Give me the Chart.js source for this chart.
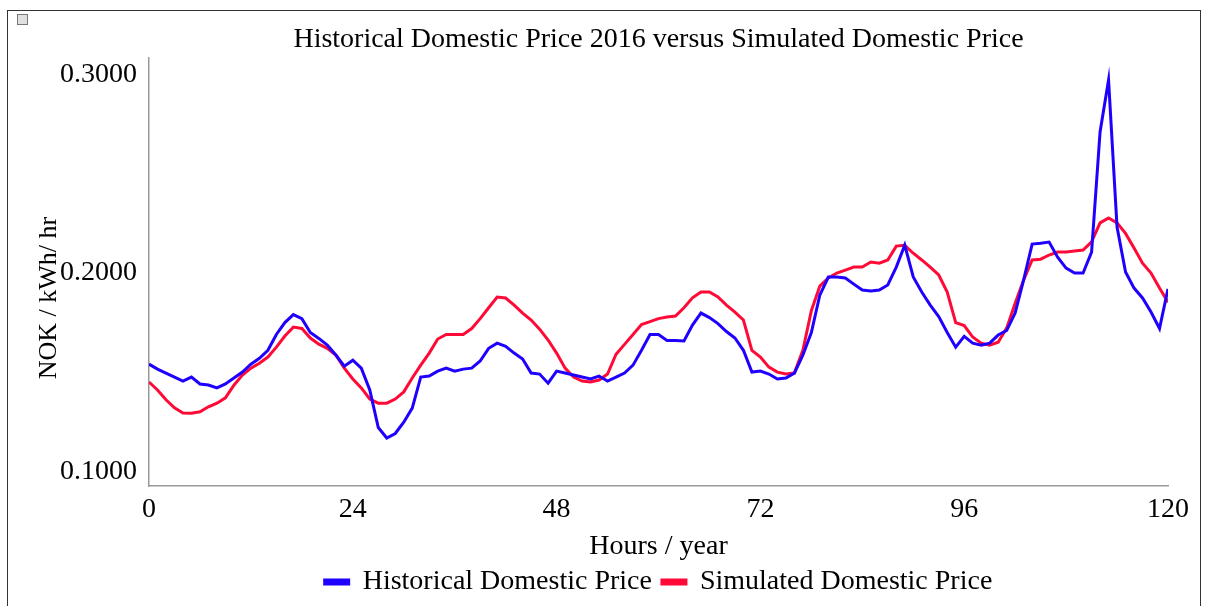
<!DOCTYPE html>
<html>
<head>
<meta charset="utf-8">
<title>Historical Domestic Price 2016 versus Simulated Domestic Price</title>
<script src="https://cdn.jsdelivr.net/npm/chart.js@4.4.1/dist/chart.umd.min.js"></script>
<style>
  html, body { margin: 0; padding: 0; background: #fff; }
  #wrap { position: relative; width: 1205px; height: 606px; overflow: hidden; }
  #priceChart { position: absolute; left: 0; top: 0; }
  .frame {
    position: absolute; left: 7px; top: 10px; width: 1192px; height: 600px;
    border: 1px solid #333; border-bottom: none; pointer-events: none;
  }
  .corner {
    position: absolute; left: 17px; top: 14px; width: 9px; height: 9px;
    border: 1px solid #777; background: #e0e0e0;
  }
</style>
</head>
<body>
<div id="wrap">
  <canvas id="priceChart" width="1205" height="606"></canvas>
  <div class="frame"></div>
  <div class="corner"></div>
</div>
<script>
// hourly values
const hours = Array.from({ length: 121 }, (_, i) => i);

const historicalPrice = [
  0.154, 0.1515, 0.1495, 0.1475, 0.1455, 0.1475, 0.144, 0.1435, 0.142, 0.144,
  0.147, 0.150, 0.154, 0.157, 0.161, 0.169, 0.175, 0.179, 0.177, 0.170,
  0.167, 0.1636, 0.1586, 0.153, 0.156, 0.152, 0.141, 0.122, 0.1167, 0.119,
  0.1247, 0.1318, 0.1475, 0.148, 0.1505, 0.152, 0.1505, 0.1515, 0.152, 0.1556,
  0.162, 0.1646, 0.163, 0.1596, 0.1566, 0.1495, 0.149, 0.1444, 0.1505, 0.1495,
  0.1485, 0.1475, 0.1465, 0.148, 0.1455, 0.1475, 0.1495, 0.1535, 0.161, 0.169,
  0.169, 0.166, 0.166, 0.1657, 0.1737, 0.1798, 0.1775, 0.1745, 0.1705, 0.1672,
  0.161, 0.150, 0.1505, 0.149, 0.1465, 0.147, 0.1495, 0.1586, 0.170, 0.1889,
  0.198, 0.198, 0.1975, 0.1944, 0.1914, 0.191, 0.1914, 0.194, 0.203, 0.2141,
  0.198, 0.1904, 0.1838, 0.178, 0.170, 0.1626, 0.168, 0.1646, 0.1636, 0.1646,
  0.1687, 0.171, 0.1798, 0.1965, 0.2146, 0.215, 0.2156, 0.208, 0.2025, 0.200,
  0.200, 0.2106, 0.2712, 0.2975, 0.2232, 0.2005, 0.1924, 0.1874, 0.1803, 0.172,
  0.192
];

const simulatedPrice = [
  0.145, 0.141, 0.136, 0.132, 0.1293, 0.1292, 0.130, 0.1325, 0.1343, 0.137,
  0.1434, 0.1485, 0.152, 0.1545, 0.1576, 0.1626, 0.1682, 0.1727, 0.172, 0.1672,
  0.1641, 0.162, 0.1586, 0.152, 0.1465, 0.142, 0.1364, 0.1343, 0.1343, 0.1364,
  0.140, 0.147, 0.1535, 0.1596, 0.1667, 0.169, 0.169, 0.169, 0.172, 0.177,
  0.1825, 0.1879, 0.1874, 0.1838, 0.1798, 0.1763, 0.1717, 0.1662, 0.1596, 0.152,
  0.1475, 0.1455, 0.145, 0.146, 0.149, 0.159, 0.164, 0.169, 0.174, 0.1755,
  0.177, 0.1778, 0.1783, 0.1825, 0.1875, 0.1904, 0.1904, 0.1879, 0.1838, 0.1803,
  0.1763, 0.161, 0.1576, 0.1525, 0.150, 0.149, 0.1495, 0.161, 0.181, 0.1934,
  0.1975, 0.200, 0.2015, 0.203, 0.203, 0.2056, 0.205, 0.2066, 0.2136, 0.214,
  0.210, 0.2066, 0.203, 0.199, 0.1904, 0.175, 0.1735, 0.1677, 0.1646, 0.1636,
  0.1651, 0.1722, 0.1848, 0.1965, 0.2066, 0.207, 0.2091, 0.2106, 0.2106, 0.2111,
  0.2116, 0.2157, 0.2253, 0.2278, 0.2253, 0.220, 0.2126, 0.205, 0.200, 0.1924,
  0.1853
];

const xTickValues = [0, 24, 48, 72, 96, 120];
const yTickValues = [0.1, 0.2, 0.3];

const serif = '"Liberation Serif", "Times New Roman", serif';
const blue = '#1f00ff';
const red = '#ff0a36';

const toPoints = values => values.map((v, i) => ({ x: hours[i], y: v }));

const ctx = document.getElementById('priceChart').getContext('2d');
new Chart(ctx, {
  type: 'line',
  data: {
    datasets: [
      {
        label: 'Historical Domestic Price',
        data: toPoints(historicalPrice),
        borderColor: blue,
        backgroundColor: blue,
        borderWidth: 3,
        pointRadius: 0,
        tension: 0,
      },
      {
        label: 'Simulated Domestic Price',
        data: toPoints(simulatedPrice),
        borderColor: red,
        backgroundColor: red,
        borderWidth: 3,
        pointRadius: 0,
        tension: 0,
      },
    ],
  },
  options: {
    responsive: false,
    animation: false,
    devicePixelRatio: 1,
    layout: { padding: { left: 10, right: 37, top: 10, bottom: 0 } },
    plugins: {
      title: {
        display: true,
        fullSize: false,
        text: 'Historical Domestic Price 2016 versus Simulated Domestic Price',
        color: '#000',
        font: { family: serif, size: 28, weight: 'normal', lineHeight: 1.2 },
        padding: { top: 13, bottom: 1.5 },
      },
      legend: {
        position: 'bottom',
        fullSize: false,
        labels: {
          color: '#000',
          font: { family: serif, size: 28 },
          boxWidth: 24,
          boxHeight: 4,
          padding: 10,
        },
      },
      tooltip: { enabled: false },
    },
    scales: {
      x: {
        type: 'linear',
        min: 0,
        max: 120,
        afterBuildTicks: scale => {
          scale.ticks = xTickValues.map(v => ({ value: v }));
        },
        afterFit: scale => {
          scale.height = 72;
        },
        grid: { display: false, drawTicks: false },
        border: { display: true, color: '#999', width: 1.5 },
        ticks: {
          color: '#000',
          font: { family: serif, size: 28 },
          padding: 7,
          maxRotation: 0,
        },
        title: {
          display: true,
          text: 'Hours / year',
          color: '#000',
          font: { family: serif, size: 28, lineHeight: 0.8 },
          padding: { top: 0, bottom: 0 },
        },
      },
      y: {
        min: 0.0925,
        max: 0.3085,
        afterBuildTicks: scale => {
          scale.ticks = yTickValues.map(v => ({ value: v }));
        },
        afterFit: scale => {
          scale.width = 139;
        },
        grid: { display: false, drawTicks: false },
        border: { display: true, color: '#999', width: 1.5 },
        ticks: {
          color: '#000',
          font: { family: serif, size: 28 },
          padding: 12,
          callback: value => value.toFixed(4),
        },
        title: {
          display: true,
          // trailing spaces push the label down, as in the original
          text: 'NOK / kWh/ hr' + '\u00a0'.repeat(8),
          color: '#000',
          font: { family: serif, size: 26, lineHeight: 1.2 },
          padding: { top: 24, bottom: 0 },
        },
      },
    },
  },
});
</script>
</body>
</html>
